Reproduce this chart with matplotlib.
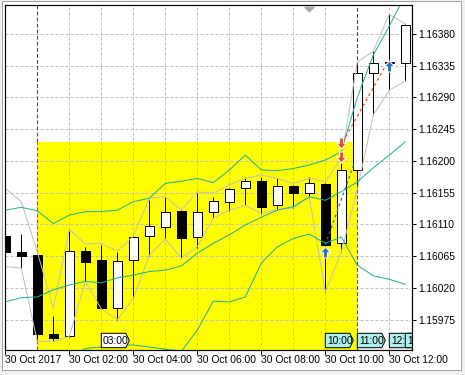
import numpy as np
import matplotlib
matplotlib.use("Agg")
import matplotlib.pyplot as plt
from matplotlib.patches import Rectangle, Polygon
from matplotlib.path import Path

plt.rcParams['font.family'] = ['Liberation Sans Narrow', 'Liberation Sans', 'DejaVu Sans']

# ---------------- data ----------------
x_tick_pos = [0, 4, 8, 12, 16, 20, 24]
x_tick_labels = ["30 Oct 2017", "30 Oct 02:00", "30 Oct 04:00", "30 Oct 06:00",
                 "30 Oct 08:00", "30 Oct 10:00", "30 Oct 12:00"]
price_ticks = [1.15975, 1.16020, 1.16065, 1.16110, 1.16155,
               1.16200, 1.16245, 1.16290, 1.16335, 1.16380]

opens  = [1.16093, 1.16071, 1.16066, 1.15955, 1.15951, 1.16072, 1.16059, 1.15991, 1.16059,
          1.16093, 1.16106, 1.16129, 1.16092, 1.16127, 1.16141, 1.16161, 1.16171, 1.16137,
          1.16164, 1.16155, 1.16167, 1.16083, 1.16187, 1.16325, 1.16340, 1.16338]
highs  = [1.16095, 1.16096, 1.16067, 1.15980, 1.16100, 1.16078, 1.16081, 1.16070, 1.16093,
          1.16144, 1.16148, 1.16130, 1.16155, 1.16149, 1.16161, 1.16177, 1.16177, 1.16176,
          1.16165, 1.16177, 1.16168, 1.16197, 1.16338, 1.16355, 1.16408, 1.16394]
lows   = [1.16069, 1.16047, 1.15945, 1.15944, 1.15950, 1.16029, 1.15990, 1.15975, 1.16005,
          1.16065, 1.16091, 1.16062, 1.16076, 1.16119, 1.16129, 1.16138, 1.16125, 1.16130,
          1.16133, 1.16149, 1.16014, 1.16071, 1.16159, 1.16265, 1.16300, 1.16313]
closes = [1.16070, 1.16065, 1.15954, 1.15949, 1.16072, 1.16057, 1.15992, 1.16058, 1.16092,
          1.16107, 1.16127, 1.16091, 1.16127, 1.16143, 1.16160, 1.16172, 1.16135, 1.16164,
          1.16155, 1.16169, 1.16081, 1.16187, 1.16325, 1.16338, 1.16338, 1.16392]

gray_upper = [1.16161, 1.16142, 1.16071, 1.15991, 1.16103, 1.16082, 1.16083, 1.16072, 1.16093,
              1.16147, 1.16149, 1.16130, 1.16156, 1.16154, 1.16166, 1.16175, 1.16180, 1.16175,
              1.16168, 1.16175, 1.16170, 1.16204, 1.16340, 1.16355, 1.16408, 1.16394]
gray_lower = [1.16050, 1.16048, 1.15944, 1.15944, 1.15951, 1.16029, 1.15990, 1.15975, 1.16005,
              1.16066, 1.16089, 1.16062, 1.16078, 1.16119, 1.16130, 1.16137, 1.16125, 1.16131,
              1.16133, 1.16149, 1.16014, 1.16071, 1.16159, 1.16265, 1.16300, 1.16313]

band_upper = [1.16130, 1.16134, 1.16129, 1.16111, 1.16123, 1.16128, 1.16128, 1.16130, 1.16142,
              1.16147, 1.16168, 1.16171, 1.16175, 1.16169, 1.16187, 1.16208, 1.16187, 1.16186,
              1.16189, 1.16194, 1.16201, 1.16213, 1.16290, 1.16350, 1.16391, 1.16435]
band_mid   = [1.16000, 1.16006, 1.16007, 1.16017, 1.16024, 1.16029, 1.16027, 1.16034, 1.16038,
              1.16043, 1.16045, 1.16051, 1.16069, 1.16083, 1.16095, 1.16109, 1.16120, 1.16130,
              1.16135, 1.16149, 1.16144, 1.16156, 1.16170, 1.16190, 1.16208, 1.16227]
band_lower = [np.nan, np.nan, np.nan, np.nan, 1.15922, 1.15934, 1.15936, 1.15938, 1.15939,
              1.15936, 1.15933, 1.15930, 1.15960, 1.16001, 1.16000, 1.16007, 1.16055, 1.16078,
              1.16090, 1.16096, 1.16083, 1.16092, 1.16052, 1.16037, 1.16032, 1.16025]

zone_start, zone_end, zone_top = 2, 22, 1.16227
vline_start, vline_end = 2, 22

buy_line_x, buy_line_y = [20.0, 21.8], [1.16081, 1.16196]
sell_line_x, sell_line_y = [21.1, 23.9], [1.16227, 1.16340]
sell_arrow_x, sell_arrow_y = [21, 21], [1.16225, 1.16205]
buy_arrow_x, buy_arrow_y = [20, 24], [1.16071, 1.16335]
shift_marker_x = 19

time_box_bars = [6, 20, 22, 24, 25]
time_box_labels = ["03:00", "10:00", "11:00", "12:", "1"]   # visible part of each label
time_box_fills = ["white", "#aeeeee", "#aeeeee", "#aeeeee", "#aeeeee"]

# ---------------- figure ----------------
W, H = 465, 375
PX = 0.72  # one pixel in points at dpi 100
FS = 7.4
fig = plt.figure(figsize=(W / 100, H / 100), dpi=100, facecolor="#f0f0f0")
fig.patches.append(Rectangle((2 / W, 5 / H), 459 / W, 369 / H, transform=fig.transFigure,
                             facecolor="white", edgecolor="#a0a0a0", linewidth=PX, zorder=-5))

ax = fig.add_axes([5 / W, 25 / H, 406.7 / W, 345 / H])
ax.set_zorder(2)
ax.set_facecolor("white")
ax.set_xlim(-0.019, 25.4)
ax.set_ylim(1.159318, 1.164208)

GRID = "#c0c0c0"
dash = (0, (3, 2))
for p in price_ticks:
    ax.axhline(p, color=GRID, lw=PX, ls=dash, zorder=1)
for i in range(0, 26, 2):
    if i in (vline_start, vline_end):
        continue
    ax.axvline(i, color=GRID, lw=PX, ls=dash, zorder=1)

# yellow zone
ax.add_patch(Rectangle((zone_start, 1.1585), zone_end - zone_start, zone_top - 1.1585,
                       facecolor="#ffff00", edgecolor="none", zorder=0.5))

# vertical lines
ymin, ymax = ax.get_ylim()
vls = (0, (3.5, 2))
ax.plot([vline_start, vline_start], [zone_top, ymax], color="#ff0000", lw=PX * 1.1, ls=vls, zorder=1.5)
ax.plot([vline_start, vline_start], [ymin, zone_top], color="#ff10b0", lw=PX * 1.1, ls=vls, zorder=1.5)
ax.plot([vline_end, vline_end], [ymin, ymax], color="#ff0000", lw=PX * 1.1, ls=vls, zorder=1.5)

# candles
xs = np.arange(len(opens))
ax.vlines(xs, lows, highs, color="black", lw=PX, zorder=2)
for i, (o, c) in enumerate(zip(opens, closes)):
    bottom, top = min(o, c), max(o, c)
    fc = "white" if c > o else "black"
    ax.add_patch(Rectangle((i - 0.3, bottom), 0.6, top - bottom, facecolor=fc,
                           edgecolor="black", lw=PX, zorder=2.2))

# indicator lines
ax.plot(xs, gray_upper, color="#c0c0c0", lw=PX, zorder=3)
ax.plot(xs, gray_lower, color="#c0c0c0", lw=PX, zorder=3)
TEAL = "#22b096"
ax.plot(xs, band_upper, color=TEAL, lw=PX, zorder=3.1)
ax.plot(xs, band_mid, color=TEAL, lw=PX, zorder=3.1)
ax.plot(xs, band_lower, color=TEAL, lw=PX, zorder=3.1)

ax.plot(buy_line_x, buy_line_y, color="#1e6ed2", lw=PX * 1.3, ls=(0, (2, 2.5)), zorder=3.5)
ax.plot(sell_line_x, sell_line_y, color="#f04a1e", lw=PX * 1.3, ls=(0, (2, 2.5)), zorder=3.5)

down_arrow = Path([(-0.35, 1.0), (0.35, 1.0), (0.35, 0.05), (0.9, 0.05), (0.0, -1.0),
                   (-0.9, 0.05), (-0.35, 0.05), (-0.35, 1.0)], closed=True)
up_arrow = Path([(x, -y) for x, y in down_arrow.vertices], closed=True)
ax.plot(sell_arrow_x, sell_arrow_y, ls="none", marker=down_arrow, markersize=8,
        markerfacecolor="#e8472a", markeredgecolor="white", markeredgewidth=0.8, zorder=5)
ax.plot(buy_arrow_x, buy_arrow_y, ls="none", marker=up_arrow, markersize=8,
        markerfacecolor="#1e6ec8", markeredgecolor="white", markeredgewidth=0.8, zorder=5)

# shift marker on top
tri = Path([(-1, 0.5), (1, 0.5), (0, -0.5), (-1, 0.5)], closed=True)
ax.plot([shift_marker_x], [0.988], transform=ax.get_xaxis_transform(), ls="none",
        marker=tri, markersize=6.5, color="#a8a8a8", clip_on=False, zorder=6)

# time label boxes
xt = ax.get_xaxis_transform()
y0, y1 = (350 - 347.7) / 345, (350 - 333.3) / 345
z = 7
for bar, lbl, fc in zip(time_box_bars, time_box_labels, time_box_fills):
    w, tip = 28 / 16, 24.5 / 16
    poly = Polygon([(bar, y0), (bar + tip, y0), (bar + w, (y0 + y1) / 2), (bar + tip, y1), (bar, y1)],
                   closed=True, transform=xt, facecolor=fc, edgecolor="black", lw=PX, zorder=z)
    ax.add_patch(poly)
    ax.text(bar + 1.8 / 16, (y0 + y1) / 2, lbl, transform=xt, ha="left", va="center",
            fontsize=FS, color="black", zorder=z + 0.1, clip_on=True)
    z += 0.2

# axes / ticks
for s in ax.spines.values():
    s.set_linewidth(PX * 1.2)
    s.set_color("black")
    s.set_zorder(10)

ax.set_xticks(x_tick_pos)
ax.set_xticklabels(x_tick_labels)
for lab in ax.get_xticklabels():
    lab.set_horizontalalignment("left")
ax.tick_params(axis="x", direction="out", length=5 * PX, width=PX, pad=0.3, labelsize=FS)

ax.yaxis.tick_right()
ax.set_yticks(price_ticks)
ax.set_yticklabels([f"{p:.5f}" for p in price_ticks])
ax.tick_params(axis="y", direction="out", length=4 * PX, width=PX, pad=1.5, labelsize=FS)

fig.savefig("out.png", dpi=100, facecolor=fig.get_facecolor())
